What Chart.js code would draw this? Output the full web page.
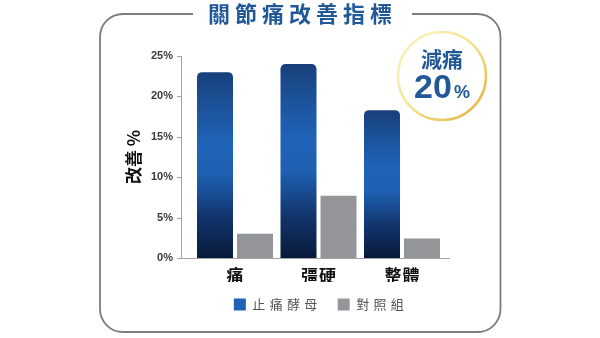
<!DOCTYPE html>
<html>
<head>
<meta charset="utf-8">
<script src="https://cdn.jsdelivr.net/npm/chart.js@4.4.1/dist/chart.umd.min.js"></script>
<style>
  html, body { margin: 0; padding: 0; background: #ffffff; }
  #wrap { width: 600px; height: 338px; position: relative; }
</style>
</head>
<body>
<div id="wrap"><canvas id="c" width="600" height="338"></canvas></div>
<script>
// ---- data ----
const chartTitle = '關節痛改善指標';
const categories = ['痛', '彊硬', '整體'];
const seriesNames = ['止痛酵母', '對照組'];
const yeastValues = [23.0, 24.0, 18.3];
const controlValues = [3.0, 7.7, 2.4];
const yTickValues = [0, 5, 10, 15, 20, 25];
const yAxisTitle = '改善 %';
const badgeLine1 = '減痛';
const badgeNumber = '20';
const badgeUnit = '%';

// ---- styles ----
const CJK = "'Noto Sans CJK TC', 'Noto Sans', sans-serif";
const NUM = "'Liberation Sans', 'Noto Sans CJK TC', sans-serif";
const BLUE_TEXT = '#215898';
const GRAY_BAR = '#939598';
const LEGEND_BLUE = '#1f62b8';
const AXIS_COLOR = '#a3a3a3';

function spaced(s, sp) { return s.split('').join(sp); }

function blueGradient(ctx) {
  const chart = ctx.chart;
  const area = chart.chartArea;
  if (!area || ctx.raw === undefined) return LEGEND_BLUE;
  const y = chart.scales.y;
  const top = y.getPixelForValue(ctx.raw);
  const base = y.getPixelForValue(0);
  const g = chart.ctx.createLinearGradient(0, top, 0, base);
  g.addColorStop(0.0, '#183f7a');
  g.addColorStop(0.12, '#1b4c90');
  g.addColorStop(0.38, '#1f63b8');
  g.addColorStop(0.55, '#1e60b2');
  g.addColorStop(0.78, '#12356d');
  g.addColorStop(1.0, '#081a3a');
  return g;
}

const framePlugin = {
  id: 'frame',
  beforeDraw(chart) {
    const c = chart.ctx;
    const L = 100, R = 500.5, T = 14, B = 332, r = 23;
    const gapL = 193, gapR = 412;
    c.save();
    c.strokeStyle = '#7d7d7d';
    c.lineWidth = 1.8;
    c.beginPath();
    c.moveTo(gapL, T);
    c.lineTo(L + r, T);
    c.arcTo(L, T, L, T + r, r);
    c.lineTo(L, B - r);
    c.arcTo(L, B, L + r, B, r);
    c.lineTo(R - r, B);
    c.arcTo(R, B, R, B - r, r);
    c.lineTo(R, T + r);
    c.arcTo(R, T, R - r, T, r);
    c.lineTo(gapR, T);
    c.stroke();
    // title
    c.fillStyle = BLUE_TEXT;
    c.font = "bold 22px " + CJK;
    c.textBaseline = 'middle';
    c.textAlign = 'left';
    c.letterSpacing = '5px';
    const w = c.measureText(chartTitle).width - 5;
    c.fillText(chartTitle, 300 - w / 2, 14);
    c.restore();
  },
  beforeDatasetsDraw(chart) {
    const c = chart.ctx;
    const y = chart.scales.y;
    const axX = 181;
    const yTop = y.getPixelForValue(y.max);
    const yBase = y.getPixelForValue(0);
    c.save();
    c.strokeStyle = AXIS_COLOR;
    c.lineWidth = 1;
    c.beginPath();
    c.moveTo(axX + 0.5, yTop);
    c.lineTo(axX + 0.5, yBase + 0.5);
    c.lineTo(450, yBase + 0.5);
    y.ticks.forEach(t => {
      const py = Math.round(y.getPixelForValue(t.value)) + 0.5;
      c.moveTo(axX - 4, py);
      c.lineTo(axX + 0.5, py);
    });
    c.stroke();
    c.restore();
  },
  afterDraw(chart) {
    const c = chart.ctx;
    const cx = 442, cy = 76, rr = 44;
    c.save();
    c.beginPath();
    c.arc(cx, cy, rr, 0, Math.PI * 2);
    c.fillStyle = '#ffffff';
    c.fill();
    const g = c.createLinearGradient(cx - rr, cy - rr, cx + rr, cy + rr);
    g.addColorStop(0, '#f8f6c4');
    g.addColorStop(0.5, '#f2e592');
    g.addColorStop(1, '#e0ab30');
    c.strokeStyle = g;
    c.lineWidth = 2.5;
    c.stroke();
    c.fillStyle = BLUE_TEXT;
    c.textBaseline = 'middle';
    c.textAlign = 'center';
    c.font = "bold 21px " + CJK;
    c.fillText(badgeLine1, cx, 59);
    c.textBaseline = 'alphabetic';
    c.textAlign = 'left';
    c.font = "bold 34px " + NUM;
    const w1 = c.measureText(badgeNumber).width;
    c.font = "bold 18px " + NUM;
    const w2 = c.measureText(badgeUnit).width;
    const start = cx - (w1 + 2 + w2) / 2;
    c.font = "bold 34px " + NUM;
    c.fillText(badgeNumber, start, 98);
    c.font = "bold 18px " + NUM;
    c.fillText(badgeUnit, start + w1 + 2, 98);
    c.restore();
  }
};

Chart.defaults.font.family = CJK;

new Chart(document.getElementById('c'), {
  type: 'bar',
  data: {
    labels: categories,
    datasets: [
      {
        label: seriesNames[0],
        data: yeastValues,
        backgroundColor: blueGradient,
        borderWidth: 0,
        borderRadius: { topLeft: 5, topRight: 5, bottomLeft: 0, bottomRight: 0 },
        borderSkipped: false,
        categoryPercentage: 0.958,
        barPercentage: 0.9
      },
      {
        label: seriesNames[1],
        data: controlValues,
        backgroundColor: GRAY_BAR,
        borderWidth: 0,
        categoryPercentage: 0.958,
        barPercentage: 0.9
      }
    ]
  },
  options: {
    responsive: false,
    animation: false,
    layout: { padding: { top: 56, left: 119, right: 77, bottom: 17 } },
    plugins: {
      tooltip: { enabled: false },
      legend: {
        position: 'bottom',
        align: 'center',
        labels: {
          boxWidth: 12,
          boxHeight: 12,
          padding: 16,
          color: '#555555',
          font: { size: 13, family: CJK },
          generateLabels(chart) {
            const cols = [LEGEND_BLUE, GRAY_BAR];
            return chart.data.datasets.map((d, i) => ({
              text: spaced(d.label, '\u2004') + '\u2004',
              fillStyle: cols[i],
              strokeStyle: cols[i],
              lineWidth: 0,
              hidden: false,
              datasetIndex: i,
              fontColor: '#555555'
            }));
          }
        }
      }
    },
    scales: {
      x: {
        grid: { display: false, drawTicks: false },
        border: { display: false },
        ticks: {
          color: '#111111',
          padding: 7,
          font: { size: 17, weight: 'bold', family: CJK },
          callback: function (v, i) { return spaced(categories[i], '\u200A'); }
        },
        afterFit(s) { s.height = 24; }
      },
      y: {
        min: 0,
        max: 25,
        grid: { display: false, drawTicks: false },
        border: { display: false },
        afterBuildTicks(s) { s.ticks = yTickValues.map(v => ({ value: v })); },
        ticks: {
          color: '#3a3a3a',
          padding: 20.25,
          font: { size: 11, weight: 'bold', family: NUM },
          callback: v => v + '%'
        },
        title: {
          display: true,
          text: yAxisTitle,
          color: '#111111',
          padding: { top: 4, bottom: 0 },
          font: { size: 17, weight: 'bold', family: CJK }
        },
        afterFit(s) { s.width = 74.25; }
      },
      y2: {
        position: 'right',
        display: true,
        grid: { display: false, drawTicks: false },
        border: { display: false },
        ticks: { display: false },
        afterFit(s) { s.width = 79.25; }
      }
    }
  },
  plugins: [framePlugin]
});
</script>
</body>
</html>
